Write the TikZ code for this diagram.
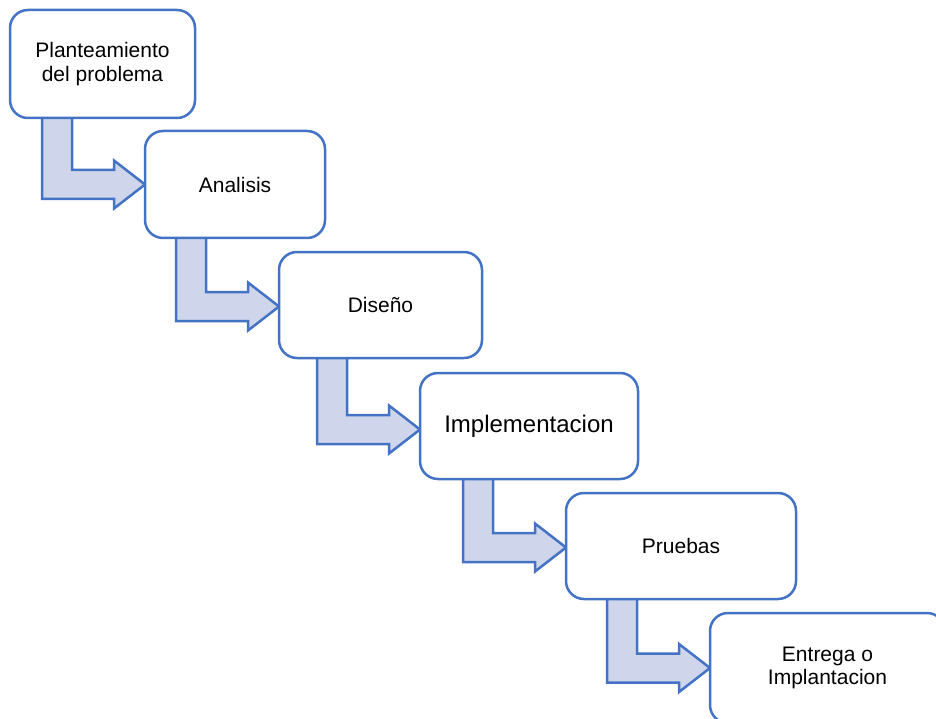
\documentclass[tikz,border=0pt]{standalone}
\usepackage{fontspec}
\setmainfont{Liberation Sans}
\usetikzlibrary{calc}
\definecolor{edgeblue}{HTML}{4472C4}
\definecolor{arrowfill}{HTML}{CFD5EA}
\pgfdeclarelayer{background}
\pgfsetlayers{background,main}
\tikzset{
  stage/.style={draw=edgeblue, line width=2.5pt, fill=white, rounded corners=18pt,
    align=center, inner sep=0pt, outer sep=0pt, text=black,
    font=\fontsize{21}{23.5}\selectfont},
  bentarrow/.style={draw=edgeblue, line width=2.5pt, fill=arrowfill, line join=miter},
}
% bent block arrow: down from the bottom of #1, then right into the left side of #2
% (#3 shifts the arrow's tip and bar vertically)
\newcommand\stepconnector[3]{%
  \begin{pgfonlayer}{background}
  \path[bentarrow] let \p1=(#1.south), \p2=($(#2.west)+(0,#3)$) in
    (\x2-103pt,\y1+3pt) -- (\x2-73pt,\y1+3pt) -- (\x2-73pt,\y2+14.5pt)
    -- (\x2-31pt,\y2+14.5pt) -- (\x2-31pt,\y2+24pt) -- (\x2,\y2)
    -- (\x2-31pt,\y2-24pt) -- (\x2-31pt,\y2-14.5pt) -- (\x2-103pt,\y2-14.5pt) -- cycle;
  \end{pgfonlayer}}
\begin{document}
\begin{tikzpicture}[x=1pt,y=-1pt]
  \useasboundingbox (0,0) rectangle (936,719);
  \clip (0,0) rectangle (936,719);
  \node[stage, minimum width=185pt, minimum height=108pt] (plan) at (102.5,64) {Planteamiento\\del problema};
  \node[stage, minimum width=180pt, minimum height=107pt] (anal) at (235,184.5) {Analisis};
  \node[stage, minimum width=203pt, minimum height=106pt] (dise) at (380.5,305) {Diseño};
  \node[stage, minimum width=218pt, minimum height=106pt, font=\fontsize{24}{27}\selectfont] (impl) at (529,426) {Implementacion};
  \node[stage, minimum width=230pt, minimum height=106pt] (prue) at (681,546) {Pruebas};
  \node[stage, minimum width=235pt, minimum height=110pt] (entr) at (827.5,668) {Entrega o\\Implantacion};
  \stepconnector{plan}{anal}{0}
  \stepconnector{anal}{dise}{1.5}
  \stepconnector{dise}{impl}{3.5}
  \stepconnector{impl}{prue}{1.5}
  \stepconnector{prue}{entr}{0}
\end{tikzpicture}
\end{document}
